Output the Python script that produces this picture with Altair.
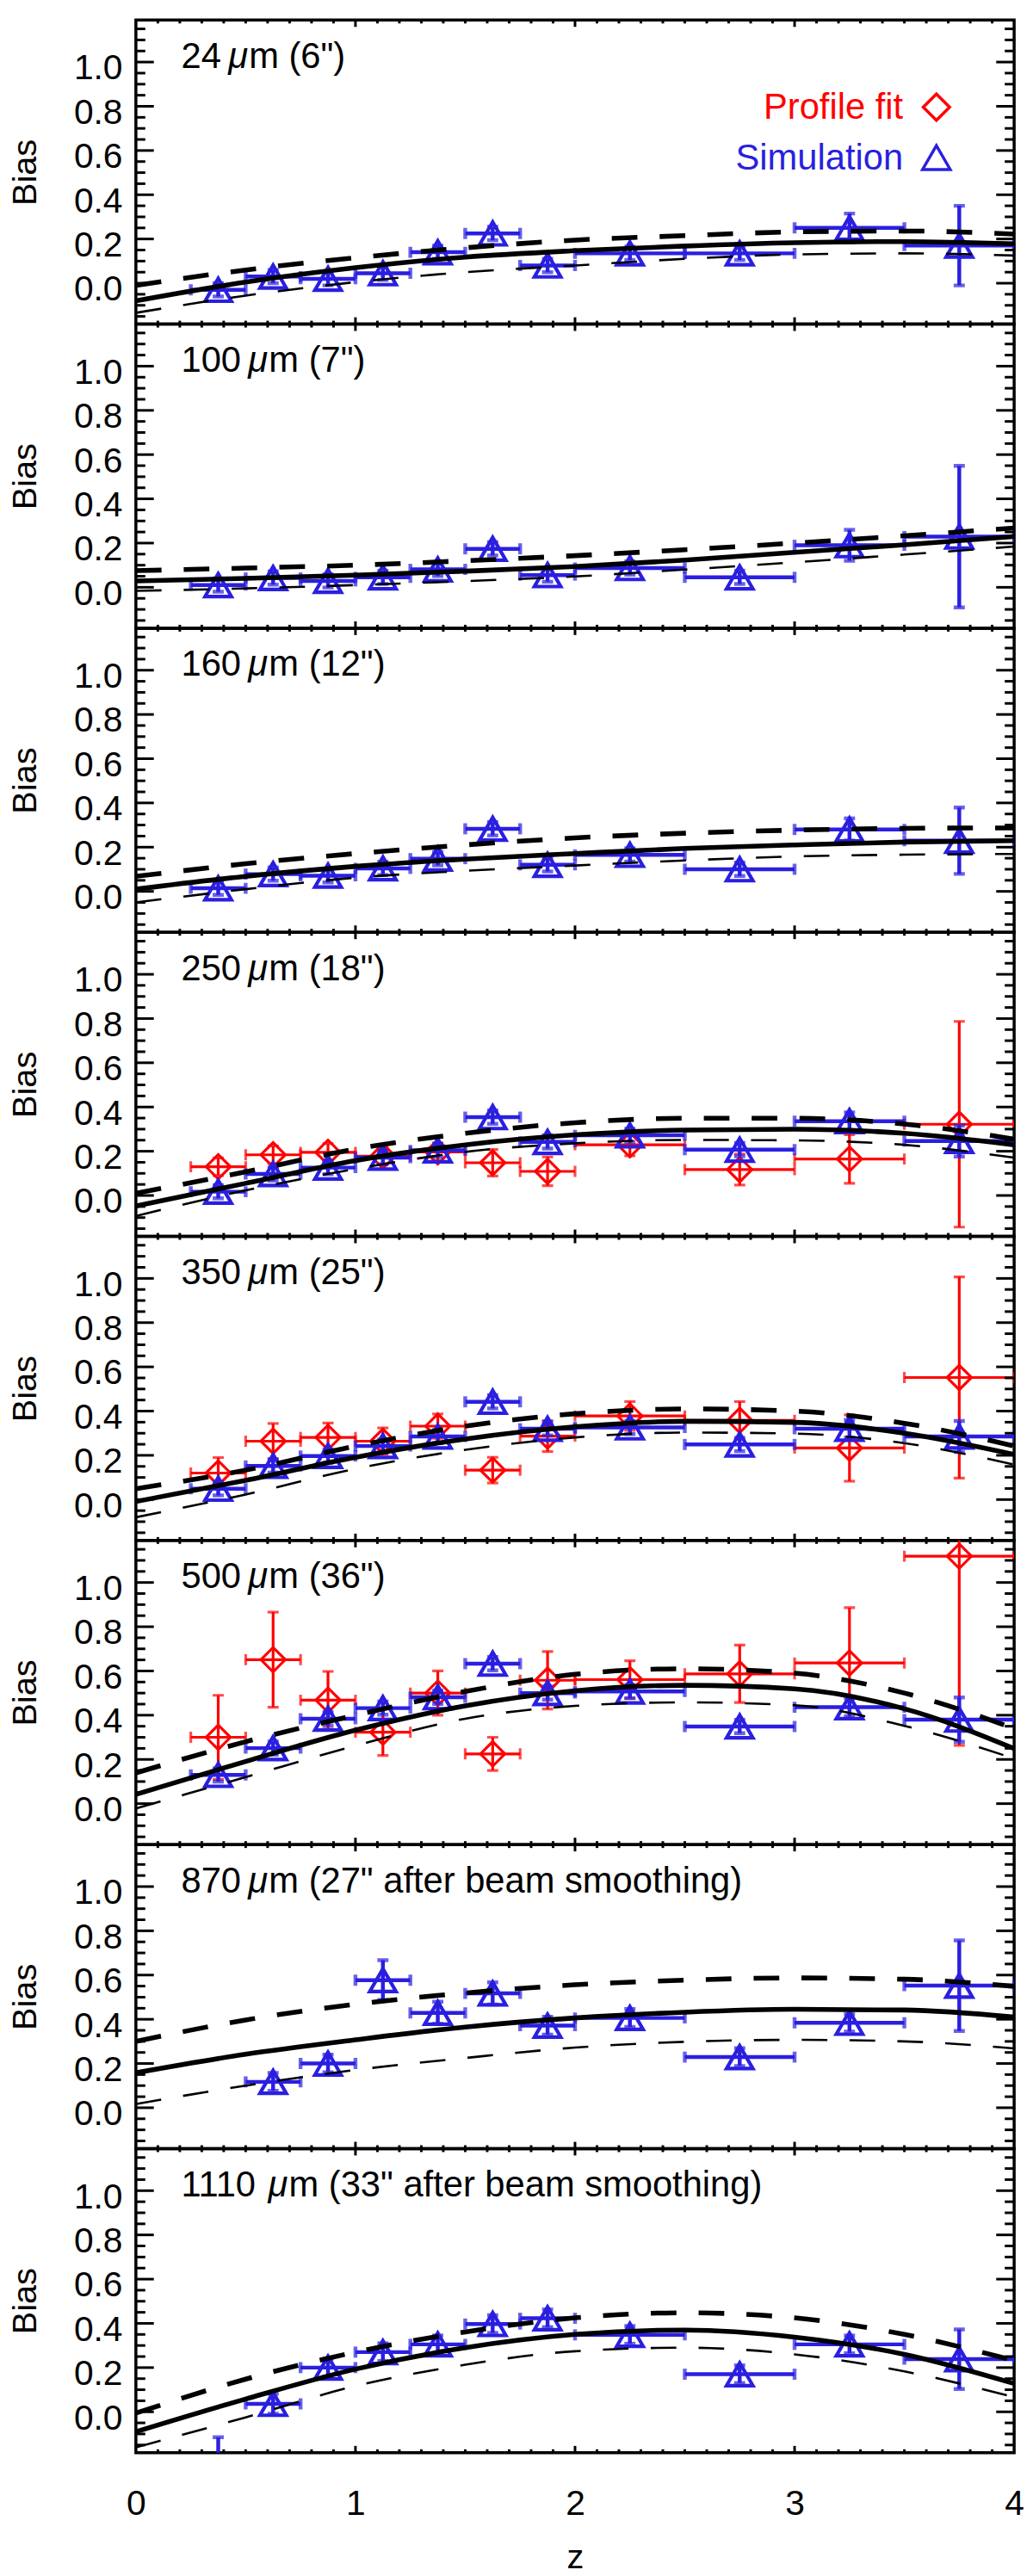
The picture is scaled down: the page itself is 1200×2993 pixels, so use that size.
import altair as alt
import pandas as pd

# ---------------- data ----------------
Z_MID = [0.375, 0.625, 0.875, 1.125, 1.375, 1.625, 1.875, 2.25, 2.75, 3.25, 3.75]
Z_LO = [0.25, 0.5, 0.75, 1.0, 1.25, 1.5, 1.75, 2.0, 2.5, 3.0, 3.5]
Z_HI = [0.5, 0.75, 1.0, 1.25, 1.5, 1.75, 2.0, 2.5, 3.0, 3.5, 4.0]
Z_CURVE = [0.0, 0.5, 1.0, 1.5, 2.0, 2.5, 3.0, 3.5, 4.0]

LABELS = [
    '24 μm (6")', '100 μm (7")', '160 μm (12")', '250 μm (18")',
    '350 μm (25")', '500 μm (36")',
    '870 μm (27" after beam smoothing)', '1110 μm (33" after beam smoothing)',
]

SIM_VAL = [
    [-0.03, 0.03, 0.02, 0.045, 0.14, 0.225, 0.08, 0.135, 0.135, 0.25, 0.17],
    [0.01, 0.042, 0.029, 0.045, 0.081, 0.174, 0.055, 0.087, 0.045, 0.19, 0.229],
    [0.014, 0.078, 0.071, 0.104, 0.148, 0.283, 0.12, 0.165, 0.10, 0.28, 0.229],
    [0.017, 0.097, 0.126, 0.171, 0.204, 0.354, 0.242, 0.272, 0.207, 0.336, 0.246],
    [0.049, 0.152, 0.197, 0.242, 0.285, 0.442, 0.32, 0.326, 0.249, 0.32, 0.285],
    [0.13, 0.251, 0.384, 0.432, 0.481, 0.633, 0.5, 0.507, 0.349, 0.436, 0.38],
    [None, 0.117, 0.2, 0.577, 0.429, 0.517, 0.371, 0.406, 0.229, 0.384, 0.552],
    [-0.26, 0.036, 0.2, 0.27, 0.305, 0.397, 0.423, 0.348, 0.17, 0.305, 0.238],
]
SIM_ERR = [
    [0.03, 0.03, 0.03, 0.03, 0.03, 0.03, 0.03, 0.03, 0.03, 0.065, 0.18],
    [0.03, 0.03, 0.03, 0.03, 0.03, 0.03, 0.03, 0.03, 0.03, 0.07, 0.32],
    [0.03, 0.03, 0.03, 0.03, 0.03, 0.03, 0.03, 0.03, 0.03, 0.05, 0.15],
    [0.03, 0.03, 0.03, 0.03, 0.03, 0.03, 0.03, 0.03, 0.03, 0.04, 0.07],
    [0.03, 0.03, 0.03, 0.03, 0.03, 0.03, 0.03, 0.03, 0.03, 0.04, 0.07],
    [0.03, 0.03, 0.03, 0.03, 0.03, 0.03, 0.03, 0.03, 0.03, 0.04, 0.10],
    [None, 0.04, 0.04, 0.09, 0.05, 0.05, 0.04, 0.04, 0.04, 0.04, 0.205],
    [0.145, 0.045, 0.04, 0.04, 0.04, 0.04, 0.04, 0.04, 0.04, 0.04, 0.135],
]

FIT_VAL = {
    3: [0.13, 0.184, 0.195, 0.178, 0.197, 0.148, 0.109, 0.229, 0.117, 0.165, 0.322],
    4: [0.12, 0.264, 0.281, 0.264, 0.332, 0.133, 0.287, 0.378, 0.358, 0.233, 0.552],
    5: [0.30, 0.651, 0.468, 0.323, 0.50, 0.225, 0.558, 0.561, 0.587, 0.636, 1.119],
}
FIT_ERR = {
    3: [0.04, 0.04, 0.04, 0.04, 0.04, 0.06, 0.065, 0.05, 0.07, 0.11, 0.465],
    4: [0.07, 0.08, 0.065, 0.06, 0.055, 0.058, 0.07, 0.065, 0.085, 0.15, 0.455],
    5: [0.19, 0.215, 0.13, 0.105, 0.10, 0.075, 0.13, 0.085, 0.13, 0.25, 0.855],
}

CURVE_MID = [
    [-0.08, 0.005, 0.07, 0.118, 0.147, 0.168, 0.183, 0.188, 0.178],
    [0.029, 0.04, 0.055, 0.073, 0.094, 0.123, 0.158, 0.192, 0.23],
    [0.01, 0.068, 0.113, 0.146, 0.171, 0.194, 0.21, 0.223, 0.229],
    [-0.048, 0.055, 0.158, 0.229, 0.274, 0.296, 0.30, 0.281, 0.229],
    [-0.009, 0.087, 0.191, 0.274, 0.329, 0.354, 0.349, 0.30, 0.204],
    [0.042, 0.191, 0.332, 0.442, 0.51, 0.535, 0.519, 0.429, 0.249],
    [0.158, 0.242, 0.307, 0.365, 0.406, 0.432, 0.445, 0.442, 0.41],
    [-0.09, 0.058, 0.193, 0.29, 0.35, 0.37, 0.338, 0.26, 0.128],
]
CURVE_HI = [
    [-0.01, 0.06, 0.115, 0.16, 0.195, 0.215, 0.232, 0.236, 0.222],
    [0.075, 0.087, 0.10, 0.12, 0.143, 0.17, 0.20, 0.233, 0.268],
    [0.068, 0.125, 0.171, 0.21, 0.242, 0.263, 0.277, 0.285, 0.287],
    [0.01, 0.107, 0.21, 0.281, 0.329, 0.349, 0.349, 0.323, 0.255],
    [0.049, 0.133, 0.242, 0.332, 0.388, 0.41, 0.40, 0.345, 0.242],
    [0.139, 0.28, 0.40, 0.507, 0.585, 0.61, 0.59, 0.50, 0.34],
    [0.30, 0.397, 0.468, 0.519, 0.556, 0.577, 0.587, 0.581, 0.549],
    [-0.006, 0.148, 0.27, 0.361, 0.425, 0.448, 0.425, 0.35, 0.232],
]
CURVE_LO = [
    [-0.134, -0.056, 0.005, 0.05, 0.08, 0.11, 0.13, 0.135, 0.125],
    [-0.016, -0.005, 0.01, 0.028, 0.049, 0.08, 0.113, 0.148, 0.184],
    [-0.05, 0.01, 0.062, 0.093, 0.117, 0.14, 0.158, 0.166, 0.169],
    [-0.093, 0.023, 0.12, 0.197, 0.236, 0.251, 0.249, 0.229, 0.171],
    [-0.08, 0.023, 0.139, 0.225, 0.281, 0.303, 0.298, 0.255, 0.158],
    [-0.022, 0.12, 0.262, 0.384, 0.442, 0.458, 0.445, 0.352, 0.204],
    [0.017, 0.10, 0.171, 0.225, 0.272, 0.298, 0.307, 0.30, 0.268],
    [-0.161, -0.025, 0.117, 0.213, 0.274, 0.29, 0.26, 0.183, 0.066],
]

# axis tick positions
Y_LABELS = [0.0, 0.2, 0.4, 0.6, 0.8, 1.0]
Y_MINOR = [-0.15, -0.1, -0.05, 0.05, 0.1, 0.15, 0.25, 0.3, 0.35, 0.45, 0.5,
           0.55, 0.65, 0.7, 0.75, 0.85, 0.9, 0.95, 1.05, 1.1, 1.15]
X_LABELS = [0, 1, 2, 3, 4]
X_MAJOR = [1, 2, 3]
X_MINOR = [round(i * 0.1, 1) for i in range(1, 40) if i % 10]

# ---------------- style ----------------
W, H = 1028, 356
RED = "#ff0000"
BLUE = "#2a1fe0"
FONT = "Liberation Sans"
FS = 42
YS = alt.Scale(domain=[-0.185, 1.19], nice=False, zero=False)
XS = alt.Scale(domain=[0, 4], nice=False, zero=False)

YAX = alt.Axis(title="Bias", values=Y_LABELS, format=".1f", ticks=False, tickSize=0,
               domain=False, grid=False, labelFontSize=41, labelFont=FONT,
               labelColor="black", labelPadding=16, labelOffset=8, labelFlush=False,
               labelOverlap=False, titleFontSize=40, titleFont=FONT,
               titleFontWeight="normal", titleColor="black", titleX=-117,
               titleY=178, titleBaseline="alphabetic", titleAngle=270)
XAX = alt.Axis(title="z", values=X_LABELS, format="d", ticks=False, tickSize=0,
               domain=False, grid=False, labelFontSize=41, labelFont=FONT,
               labelColor="black", labelPadding=40, labelFlush=False,
               labelOverlap=False, titleFontSize=40, titleFont=FONT,
               titleFontWeight="normal", titleColor="black", titleY=135,
               titleBaseline="alphabetic")


def Y(f):
    return alt.Y(f, type="quantitative", scale=YS, axis=YAX)


def make_panel(i):
    last = i == len(LABELS) - 1

    def X(f):
        return alt.X(f, type="quantitative", scale=XS, axis=XAX if last else None)

    layers = []

    def errbars(vals, errs, color, lw, shape, size, sw):
        rows = [dict(z=z, zlo=a, zhi=b, val=v, lo=v - e, hi=v + e)
                for z, a, b, v, e in zip(Z_MID, Z_LO, Z_HI, vals, errs) if v is not None]
        base = alt.Chart(pd.DataFrame(rows))
        tick = dict(color=color, size=13, thickness=lw, clip=True)
        return [
            base.mark_rule(color=color, strokeWidth=lw, clip=True).encode(
                x=X("zlo"), x2=alt.X2("zhi"), y=Y("val")),
            base.mark_tick(orient="vertical", **tick).encode(x=X("zlo"), y=Y("val")),
            base.mark_tick(orient="vertical", **tick).encode(x=X("zhi"), y=Y("val")),
            base.mark_rule(color=color, strokeWidth=lw, clip=True).encode(
                x=X("z"), y=Y("lo"), y2=alt.Y2("hi")),
            base.mark_tick(orient="horizontal", **tick).encode(x=X("z"), y=Y("lo")),
            base.mark_tick(orient="horizontal", **tick).encode(x=X("z"), y=Y("hi")),
            base.mark_point(shape=shape, size=size, filled=False, color=color,
                            strokeWidth=sw, opacity=1, clip=True).encode(x=X("z"), y=Y("val")),
        ]

    if i in FIT_VAL:
        layers += errbars(FIT_VAL[i], FIT_ERR[i], RED, 3.2, "diamond", 820, 3.2)
    layers += errbars(SIM_VAL[i], SIM_ERR[i], BLUE, 4.5, "triangle-up", 950, 4.2)

    cdf = pd.DataFrame(dict(z=Z_CURVE, mid=CURVE_MID[i], hi=CURVE_HI[i], lo=CURVE_LO[i]))
    cb = alt.Chart(cdf)
    layers += [
        cb.mark_line(color="black", strokeWidth=2.6, strokeDash=[30, 26],
                     interpolate="monotone", clip=True).encode(x=X("z"), y=Y("lo")),
        cb.mark_line(color="black", strokeWidth=5.6, strokeDash=[30, 26],
                     interpolate="monotone", clip=True).encode(x=X("z"), y=Y("hi")),
        cb.mark_line(color="black", strokeWidth=5.6,
                     interpolate="monotone", clip=True).encode(x=X("z"), y=Y("mid")),
    ]

    # inner ticks on all four sides
    ymaj = alt.Chart(pd.DataFrame(dict(t=Y_LABELS)))
    ymin = alt.Chart(pd.DataFrame(dict(t=Y_MINOR)))
    xmaj = alt.Chart(pd.DataFrame(dict(t=X_MAJOR)))
    xmin = alt.Chart(pd.DataFrame(dict(t=X_MINOR)))
    tk = dict(color="black", strokeWidth=3)
    layers += [
        ymaj.mark_rule(**tk).encode(y=Y("t"), x=alt.value(0), x2=alt.value(21)),
        ymin.mark_rule(**tk).encode(y=Y("t"), x=alt.value(0), x2=alt.value(11)),
        ymaj.mark_rule(**tk).encode(y=Y("t"), x=alt.value(W - 21), x2=alt.value(W)),
        ymin.mark_rule(**tk).encode(y=Y("t"), x=alt.value(W - 11), x2=alt.value(W)),
        xmaj.mark_rule(**tk).encode(x=X("t"), y=alt.value(0), y2=alt.value(8)),
        xmin.mark_rule(**tk).encode(x=X("t"), y=alt.value(0), y2=alt.value(4)),
        xmaj.mark_rule(**tk).encode(x=X("t"), y=alt.value(H - 8), y2=alt.value(H)),
        xmin.mark_rule(**tk).encode(x=X("t"), y=alt.value(H - 4), y2=alt.value(H)),
    ]

    # panel label: number, italic mu, rest (widths from Liberation Sans metrics)
    num, rest = LABELS[i].split(" μ")
    x0 = 53
    x_mu = x0 + (0.556 * len(num) + 0.2) * FS
    x_rest = x_mu + 0.576 * FS
    txt = dict(align="left", baseline="alphabetic", fontSize=FS, font=FONT, color="black")
    layers += [
        alt.Chart(pd.DataFrame(dict(t=[num]))).mark_text(**txt).encode(
            text="t:N", x=alt.value(x0), y=alt.value(56)),
        alt.Chart(pd.DataFrame(dict(t=["μ"]))).mark_text(fontStyle="italic", **txt).encode(
            text="t:N", x=alt.value(x_mu), y=alt.value(56)),
        alt.Chart(pd.DataFrame(dict(t=[rest]))).mark_text(**txt).encode(
            text="t:N", x=alt.value(x_rest), y=alt.value(56)),
    ]

    if i == 0:
        lg = alt.Chart(pd.DataFrame(dict(t=["Profile fit"])))
        lg2 = alt.Chart(pd.DataFrame(dict(t=["Simulation"])))
        layers += [
            lg.mark_text(align="right", baseline="alphabetic", fontSize=FS, font=FONT,
                         color=RED).encode(text="t:N", x=alt.value(898), y=alt.value(116)),
            lg2.mark_text(align="right", baseline="alphabetic", fontSize=FS, font=FONT,
                          color=BLUE).encode(text="t:N", x=alt.value(898), y=alt.value(175)),
            lg.mark_point(shape="diamond", size=950, filled=False, color=RED, strokeWidth=3.5,
                          opacity=1).encode(x=alt.value(937), y=alt.value(102)),
            lg2.mark_point(shape="triangle-up", size=1050, filled=False, color=BLUE,
                           strokeWidth=3.5, opacity=1).encode(x=alt.value(937), y=alt.value(161)),
        ]

    return alt.layer(*layers).properties(width=W, height=H)


panels = [make_panel(i) for i in range(len(LABELS))]

chart = (
    alt.vconcat(*panels, spacing=0, bounds="flush")
    .properties(padding={"left": 0, "top": 0, "right": 0, "bottom": 0})
    .configure(font=FONT)
    .configure_view(stroke="black", strokeWidth=3.5)
)

chart.save("out.html", embed_options={"renderer": "svg", "actions": False})
